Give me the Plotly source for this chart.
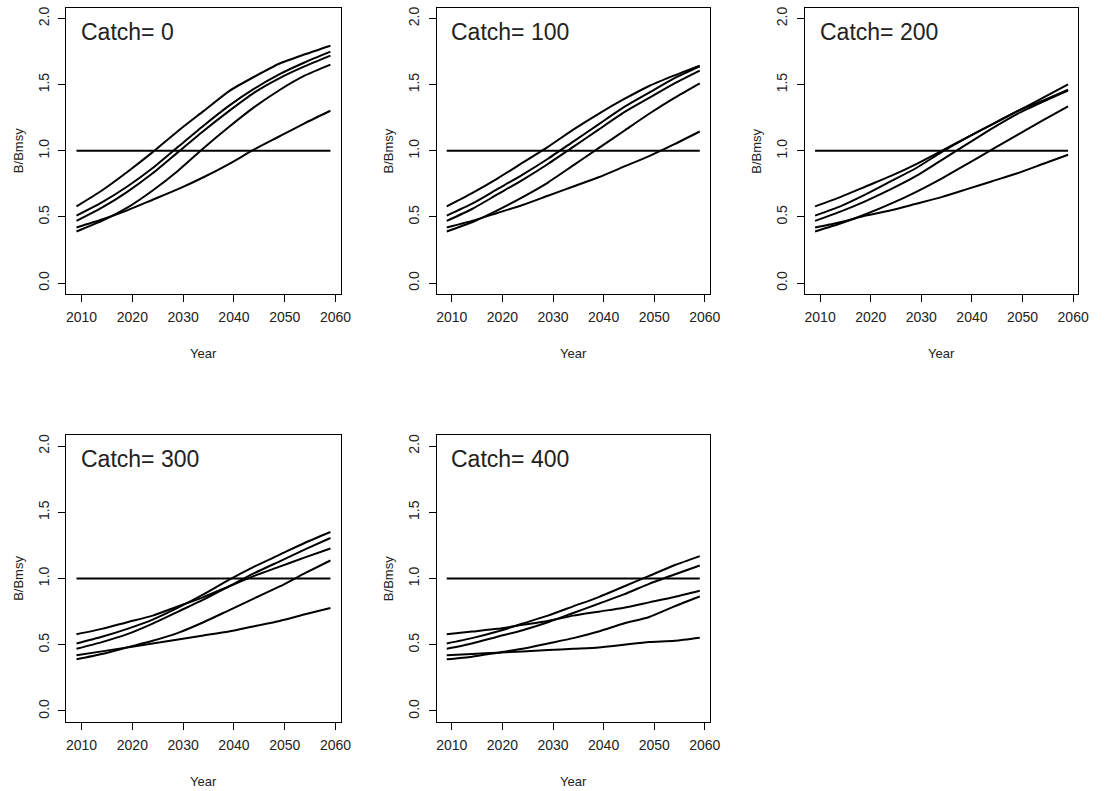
import plotly.graph_objects as go

# Projection years (5-year steps) shared by every panel
years = [2009, 2014, 2019, 2024, 2029, 2034, 2039, 2044, 2049, 2054, 2059]

# Biomass relative to Bmsy for five model runs, one list per run, per catch level
catch_levels = [0, 100, 200, 300, 400]

catch0 = [
    [0.58, 0.70, 0.84, 0.99, 1.15, 1.30, 1.45, 1.56, 1.66, 1.73, 1.795],
    [0.51, 0.61, 0.73, 0.87, 1.03, 1.19, 1.34, 1.47, 1.58, 1.67, 1.75],
    [0.47, 0.57, 0.69, 0.83, 0.99, 1.15, 1.30, 1.44, 1.55, 1.64, 1.72],
    [0.39, 0.47, 0.57, 0.70, 0.85, 1.02, 1.18, 1.33, 1.46, 1.57, 1.652],
    [0.42, 0.48, 0.55, 0.63, 0.71, 0.80, 0.90, 1.01, 1.11, 1.21, 1.303],
]
catch100 = [
    [0.58, 0.68, 0.79, 0.91, 1.03, 1.16, 1.28, 1.39, 1.49, 1.57, 1.644],
    [0.51, 0.60, 0.71, 0.82, 0.94, 1.07, 1.20, 1.33, 1.44, 1.55, 1.639],
    [0.47, 0.56, 0.67, 0.78, 0.90, 1.03, 1.16, 1.29, 1.40, 1.51, 1.606],
    [0.39, 0.46, 0.55, 0.65, 0.76, 0.89, 1.02, 1.15, 1.28, 1.40, 1.51],
    [0.42, 0.47, 0.53, 0.59, 0.66, 0.73, 0.80, 0.88, 0.96, 1.05, 1.146],
]
catch200 = [
    [0.58, 0.65, 0.73, 0.81, 0.90, 1.00, 1.10, 1.20, 1.30, 1.40, 1.503],
    [0.51, 0.58, 0.67, 0.77, 0.87, 0.99, 1.10, 1.20, 1.30, 1.38, 1.462],
    [0.47, 0.54, 0.62, 0.71, 0.81, 0.93, 1.05, 1.17, 1.28, 1.37, 1.455],
    [0.39, 0.45, 0.52, 0.60, 0.69, 0.79, 0.90, 1.01, 1.12, 1.23, 1.336],
    [0.42, 0.46, 0.51, 0.55, 0.60, 0.65, 0.71, 0.77, 0.83, 0.90, 0.97],
]
catch300 = [
    [0.58, 0.62, 0.67, 0.72, 0.79, 0.86, 0.94, 1.02, 1.09, 1.16, 1.227],
    [0.51, 0.56, 0.62, 0.69, 0.78, 0.88, 0.99, 1.09, 1.18, 1.27, 1.351],
    [0.47, 0.52, 0.58, 0.66, 0.75, 0.84, 0.94, 1.04, 1.13, 1.22, 1.306],
    [0.39, 0.43, 0.48, 0.53, 0.59, 0.67, 0.76, 0.85, 0.94, 1.04, 1.136],
    [0.42, 0.45, 0.48, 0.51, 0.54, 0.57, 0.60, 0.64, 0.68, 0.73, 0.778],
]
catch400 = [
    [0.58, 0.60, 0.62, 0.65, 0.68, 0.72, 0.75, 0.78, 0.82, 0.86, 0.907],
    [0.51, 0.55, 0.60, 0.66, 0.72, 0.79, 0.86, 0.94, 1.02, 1.10, 1.169],
    [0.47, 0.51, 0.56, 0.61, 0.67, 0.74, 0.81, 0.88, 0.96, 1.03, 1.098],
    [0.39, 0.41, 0.44, 0.47, 0.51, 0.55, 0.60, 0.66, 0.71, 0.79, 0.864],
    [0.42, 0.43, 0.44, 0.45, 0.46, 0.47, 0.48, 0.50, 0.52, 0.53, 0.553],
]
panels = [catch0, catch100, catch200, catch300, catch400]

# Reference level and axis ticks
bmsy_ref = 1.0
x_ticks = [2010, 2020, 2030, 2040, 2050, 2060]
y_ticks = [0.0, 0.5, 1.0, 1.5, 2.0]
y_tick_text = ["0.0", "0.5", "1.0", "1.5", "2.0"]

W, H = 1109, 791
FONT = "Liberation Sans, Arial, Helvetica, sans-serif"

# Plot boxes in pixels: (left, right, top, bottom)
col_px = [(67, 344), (441, 717), (813, 1089)]
row_px = [(7, 293), (435, 721.5)]
boxes = [
    (col_px[0], row_px[0]), (col_px[1], row_px[0]), (col_px[2], row_px[0]),
    (col_px[0], row_px[1]), (col_px[1], row_px[1]),
]

fig = go.Figure()
layout = {}
annotations = []

for i, (series, catch, box) in enumerate(zip(panels, catch_levels, boxes)):
    (x0, x1), (y0, y1) = box
    n = "" if i == 0 else str(i + 1)
    xa, ya = "x" + n, "y" + n

    for s in series:
        fig.add_trace(go.Scatter(
            x=years, y=s, xaxis=xa, yaxis=ya, mode="lines",
            line=dict(color="black", width=2, shape="spline", smoothing=0.6),
            showlegend=False, hoverinfo="x+y",
        ))
    fig.add_trace(go.Scatter(
        x=[years[0], years[-1]], y=[bmsy_ref, bmsy_ref], xaxis=xa, yaxis=ya,
        mode="lines", line=dict(color="black", width=2),
        showlegend=False, hoverinfo="skip",
    ))

    common = dict(
        showline=True, mirror=True, linecolor="black", linewidth=1,
        showgrid=False, zeroline=False, ticks="outside", ticklen=7,
        tickwidth=1, tickcolor="black",
        tickfont=dict(family=FONT, size=14, color="#222"),
    )
    layout["xaxis" + n] = dict(
        common, domain=[x0 / W, x1 / W], range=[2007, 2061],
        tickvals=x_ticks, anchor=ya, ticklabelstandoff=4,
    )
    layout["yaxis" + n] = dict(
        common, domain=[1 - y1 / H, 1 - y0 / H], range=[-0.08, 2.08],
        tickvals=y_ticks, ticktext=y_tick_text, tickangle=-90, anchor=xa,
        ticklabelstandoff=4,
    )

    annotations.append(dict(
        text=f"Catch= {catch}", xref=xa + " domain", yref=ya + " domain",
        x=0.047, y=1 - 23.7 / (y1 - y0), xanchor="left", yanchor="middle",
        showarrow=False, font=dict(family=FONT, size=23, color="#222"),
    ))
    annotations.append(dict(
        text="Year", xref=xa + " domain", yref=ya + " domain",
        x=0.5, y=0, yshift=-60, xanchor="center", yanchor="middle",
        showarrow=False, font=dict(family=FONT, size=13, color="#222"),
    ))
    annotations.append(dict(
        text="B/Bmsy", xref=xa + " domain", yref=ya + " domain",
        x=0, xshift=-48, y=0.5, xanchor="center", yanchor="middle",
        textangle=-90, showarrow=False,
        font=dict(family=FONT, size=13, color="#222"),
    ))

fig.update_layout(
    **layout,
    annotations=annotations,
    width=W, height=H,
    margin=dict(l=0, r=0, t=0, b=0),
    paper_bgcolor="white", plot_bgcolor="white",
)

fig.write_html("out.html")
